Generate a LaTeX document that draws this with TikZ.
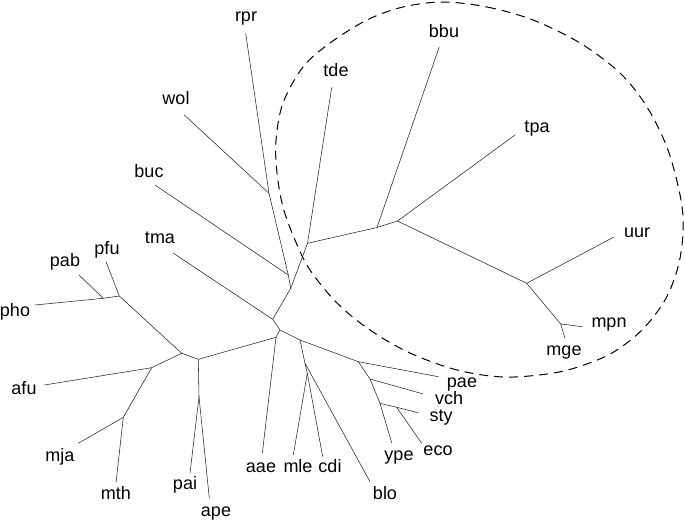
\documentclass[tikz,border=0pt]{standalone}
\usepackage{fontspec}
\setmainfont{Liberation Sans}
\begin{document}
\begin{tikzpicture}[x=1pt,y=-1pt,
  br/.style={line width=0.55pt, black!85, line join=round},
  lbl/.style={font=\fontsize{18}{20}\selectfont, inner sep=0pt, text height=9.5pt, text depth=0pt},
  ring/.style={dash pattern=on 9pt off 6pt, line width=1pt}]
\useasboundingbox (0,0) rectangle (685,522);
% leaf ends
\coordinate (rpr) at (245.7,33.3);
\coordinate (wol) at (184.3,115);
\coordinate (buc) at (155,185);
\coordinate (tma) at (173,253);
\coordinate (tde) at (331.7,87.3);
\coordinate (bbu) at (439.3,46.7);
\coordinate (tpa) at (515,135);
\coordinate (uur) at (614,237);
\coordinate (mpn) at (582.7,326.7);
\coordinate (mge) at (565,338.3);
\coordinate (pae) at (438.3,376.7);
\coordinate (vch) at (423.3,394);
\coordinate (sty) at (418.3,412.7);
\coordinate (eco) at (421.7,443.3);
\coordinate (ype) at (391.7,442.7);
\coordinate (blo) at (370,481.7);
\coordinate (cdi) at (322.7,456.7);
\coordinate (mle) at (293.3,455);
\coordinate (aae) at (262.3,453.3);
\coordinate (ape) at (209.3,498.3);
\coordinate (pai) at (190,473.3);
\coordinate (mth) at (116,482.7);
\coordinate (mja) at (78.3,443.3);
\coordinate (afu) at (44.3,385);
\coordinate (pho) at (35,305);
\coordinate (pab) at (79,275);
\coordinate (pfu) at (106,261.7);
% internal nodes
\coordinate (wolj) at (269,193.3);
\coordinate (D1) at (288.3,275);
\coordinate (D2) at (290.7,288.3);
\coordinate (E) at (307.5,243.3);
\coordinate (F) at (377,227.5);
\coordinate (G) at (397.5,221);
\coordinate (H) at (526.7,283.3);
\coordinate (I) at (560.7,324);
\coordinate (B) at (272.7,319.3);
\coordinate (A) at (280,330);
\coordinate (N) at (276,337.3);
\coordinate (M) at (198.3,359.3);
\coordinate (Q) at (199,396.7);
\coordinate (L) at (181.7,353.3);
\coordinate (J) at (119.3,296);
\coordinate (K) at (103.3,298.3);
\coordinate (O) at (151.7,367.7);
\coordinate (P) at (123.3,417.3);
\coordinate (R) at (300,340);
\coordinate (R2) at (305,363.3);
\coordinate (W) at (307.3,373.3);
\coordinate (S) at (358.3,361.7);
\coordinate (T) at (370,379);
\coordinate (U) at (380,403.3);
\coordinate (V) at (396.7,407.3);
% edges
\draw[br] (rpr) -- (wolj) -- (D1) -- (D2) -- (B) -- (A);
\draw[br] (wol) -- (wolj);
\draw[br] (buc) -- (D1);
\draw[br] (tde) -- (E) -- (D2);
\draw[br] (E) -- (F) -- (G) -- (H) -- (I);
\draw[br] (bbu) -- (F);
\draw[br] (tpa) -- (G);
\draw[br] (uur) -- (H);
\draw[br] (mpn) -- (I) -- (mge);
\draw[br] (tma) -- (B);
\draw[br] (A) -- (N) -- (M) -- (L) -- (J) -- (pfu);
\draw[br] (J) -- (K) -- (pho);
\draw[br] (K) -- (pab);
\draw[br] (M) -- (Q) -- (pai);
\draw[br] (Q) -- (ape);
\draw[br] (L) -- (O) -- (afu);
\draw[br] (O) -- (P) -- (mja);
\draw[br] (P) -- (mth);
\draw[br] (N) -- (aae);
\draw[br] (A) -- (R) -- (S) -- (pae);
\draw[br] (S) -- (T) -- (vch);
\draw[br] (T) -- (U) -- (ype);
\draw[br] (U) -- (V) -- (sty);
\draw[br] (V) -- (eco);
\draw[br] (R) -- (R2) -- (blo);
\draw[br] (R2) -- (W) -- (mle);
\draw[br] (W) -- (cdi);
% labels
\node[lbl] (Lrpr) at (246,17) {rpr};
\node[lbl] (Lwol) at (176,100) {wol};
\node[lbl] (Lbuc) at (149,173) {buc};
\node[lbl] (Ltma) at (160,239) {tma};
\node[lbl] (Ltde) at (336,72) {tde};
\node[lbl] (Lbbu) at (444,33) {bbu};
\node[lbl] (Ltpa) at (537,128) {tpa};
\node[lbl] (Luur) at (637,233) {uur};
\node[lbl] (Lmpn) at (609,323) {mpn};
\node[lbl] (Lmge) at (564,351) {mge};
\node[lbl] (Lpae) at (462,383) {pae};
\node[lbl] (Lvch) at (449,400) {vch};
\node[lbl] (Lsty) at (441,417) {sty};
\node[lbl] (Leco) at (438,451) {eco};
\node[lbl] (Lype) at (399,456) {ype};
\node[lbl] (Lblo) at (385,495) {blo};
\node[lbl] (Lcdi) at (330,468) {cdi};
\node[lbl] (Lmle) at (298,468) {mle};
\node[lbl] (Laae) at (261,468) {aae};
\node[lbl] (Lape) at (216,512) {ape};
\node[lbl] (Lpai) at (185,485) {pai};
\node[lbl] (Lmth) at (116,495) {mth};
\node[lbl] (Lmja) at (60,457) {mja};
\node[lbl] (Lafu) at (24,390) {afu};
\node[lbl] (Lpho) at (15,312) {pho};
\node[lbl] (Lpab) at (65,262) {pab};
\node[lbl] (Lpfu) at (107,250) {pfu};
% dashed outline
\draw[ring] plot[smooth cycle, tension=0.55] coordinates {(443,2) (487,7) (533,20) (580,43) (620,73) (647,107) (668,150) (681,200) (683,233) (678,267) (665,300) (642,330) (612,353) (578,367) (547,374) (503,377) (457,370) (410,353) (370,330) (337,303) (310,270) (295,240) (283,207) (277,173) (276,140) (283,103) (303,67) (330,43) (367,20) (403,7)};
\end{tikzpicture}
\end{document}
